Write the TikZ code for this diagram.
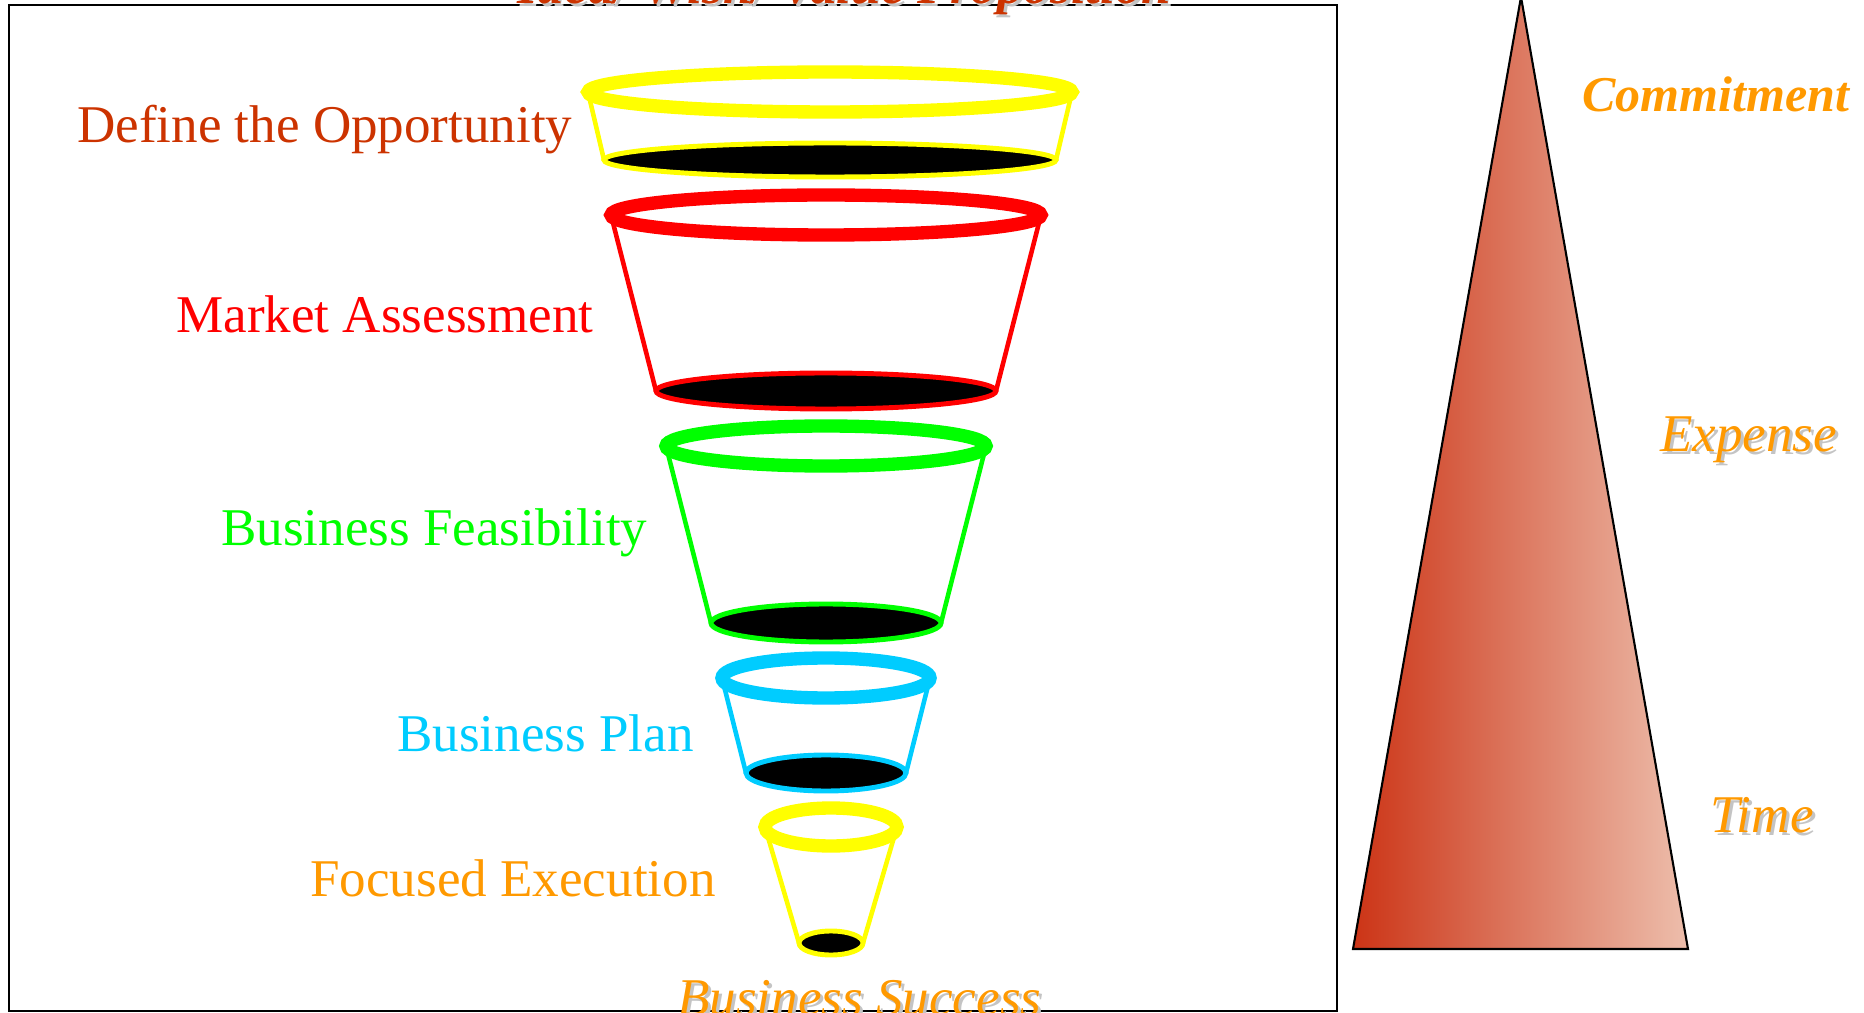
\documentclass[tikz,border=0pt]{standalone}
\usepackage{fontspec}
\setmainfont{Liberation Serif}

\definecolor{rust}{HTML}{CC3300}
\definecolor{amber}{HTML}{FF9900}
\definecolor{sky}{HTML}{00CCFF}
\definecolor{lime}{HTML}{00FF00}
\definecolor{lemon}{HTML}{FFFF00}
\definecolor{ghost}{HTML}{C4C4C4}
\definecolor{wedgedark}{RGB}{204,52,22}
\definecolor{wedgemid}{RGB}{221,136,118}
\definecolor{wedgelight}{RGB}{237,190,172}

\begin{document}
\begin{tikzpicture}[x=0.02cm, y=-0.02cm,
        rim/.style={line width=7.6pt},
        hole/.style={line width=2.8pt, fill=black},
        side/.style={line width=2.6pt},
        stage/.style={inner sep=0pt, anchor=base west, font=\fontsize{30.2}{36}\selectfont},
        tag/.style={inner sep=0pt, anchor=base west, font=\fontsize{30.2}{36}\selectfont\itshape, text=amber},
        ghosted/.style={text=ghost}
    ]
        \useasboundingbox (0,0) rectangle (1864,1013);

        % outer frame
        \draw[line width=1.5pt] (9,5) rectangle (1337,1011);

        % funnel 1
        \draw[side, lemon] (588,92) -- (604,160);
        \draw[side, lemon] (1072,92) -- (1056,160);
        \draw[hole, draw=lemon] (830,160) ellipse [x radius=226, y radius=17];
        \draw[rim, lemon] (830,92) ellipse [x radius=242, y radius=20];

        % funnel 2
        \draw[side, red] (611,215) -- (656,391);
        \draw[side, red] (1041,215) -- (996,391);
        \draw[hole, draw=red] (826,391) ellipse [x radius=170, y radius=18];
        \draw[rim, red] (826,215) ellipse [x radius=215, y radius=20];

        % funnel 3
        \draw[side, lime] (666,446) -- (711,623);
        \draw[side, lime] (986,446) -- (941,623);
        \draw[hole, draw=lime] (826,623) ellipse [x radius=115, y radius=19];
        \draw[rim, lime] (826,446) ellipse [x radius=160, y radius=20];

        % funnel 4
        \draw[side, sky] (722,678) -- (746,773);
        \draw[side, sky] (930,678) -- (906,773);
        \draw[hole, draw=sky] (826,773) ellipse [x radius=80, y radius=18];
        \draw[rim, sky] (826,678) ellipse [x radius=104, y radius=20];

        % funnel 5
        \draw[side, lemon] (765,827) -- (799,943);
        \draw[side, lemon] (897,827) -- (863,943);
        \draw[hole, draw=lemon] (831,943) ellipse [x radius=32, y radius=12];
        \draw[rim, lemon] (831,827) ellipse [x radius=66, y radius=19];

        % stage labels
        \node[stage, text=rust] (define) at (77,143) {Define the Opportunity};
        \node[stage, text=red] (market) at (176,333) {Market Assessment};
        \node[stage, text=lime] (feasible) at (221,545) {Business Feasibility};
        \node[stage, text=sky] (plan) at (397,751) {Business Plan};
        \node[stage, text=amber] (execute) at (310,896) {Focused Execution};

        % top and bottom captions
        \node[tag, ghosted, font=\fontsize{30.2}{36}\selectfont\bfseries\itshape] (idea shadow) at (520,7) {Idea/ Wish/ Value Proposition};
        \node[tag, text=rust, font=\fontsize{30.2}{36}\selectfont\bfseries\itshape] (idea) at (517,4) {Idea/ Wish/ Value Proposition};
        \node[tag, ghosted] (success shadow) at (680,1018) {Business Success};
        \node[tag] (success) at (677,1015) {Business Success};

        % rising wedge
        \shadedraw[left color=wedgedark, middle color=wedgemid, right color=wedgelight, draw=black, line width=1.2pt]
            (1353,949) -- (1521,-3) -- (1688,949) -- cycle;

        % wedge labels
        \node[tag, font=\fontsize{28.5}{34}\selectfont\bfseries\itshape] (commit) at (1582,112) {Commitment};
        \node[tag, ghosted] (expense shadow) at (1663,455) {Expense};
        \node[tag] (expense) at (1660,452) {Expense};
        \node[tag, ghosted] (time shadow) at (1713,835) {Time};
        \node[tag] (time) at (1710,832) {Time};
    \end{tikzpicture}
\end{document}
